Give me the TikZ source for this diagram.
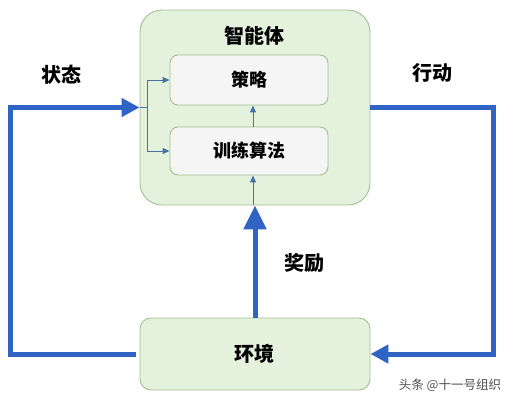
\documentclass[tikz,border=0pt]{standalone}
\usepackage{fontspec}
\setmainfont{Noto Sans CJK SC}
\usetikzlibrary{arrows.meta}
\definecolor{loopblue}{RGB}{47,99,196}
\definecolor{thinblue}{RGB}{70,115,165}
\definecolor{agentfill}{RGB}{228,241,220}
\definecolor{agentdraw}{RGB}{160,192,142}
\definecolor{innerfill}{RGB}{245,245,245}
\definecolor{wmgray}{RGB}{80,80,80}
\begin{document}
\begin{tikzpicture}[x=1pt,y=-1pt,
  outerbox/.style={draw=agentdraw, fill=agentfill, line width=0.9pt, rounded corners=22pt, minimum width=230pt, inner sep=0pt},
  innerbox/.style={draw=agentdraw, fill=innerfill, line width=0.9pt, rounded corners=8pt, minimum width=158pt, inner sep=0pt},
  envbox/.style={draw=agentdraw, fill=agentfill, line width=0.9pt, rounded corners=11pt, minimum width=230pt, minimum height=72pt, inner sep=0pt},
  lbl/.style={font=\fontsize{20}{22}\selectfont\bfseries, text=black},
  ilbl/.style={font=\fontsize{18}{20}\selectfont\bfseries, text=black},
  bigloop/.style={draw=loopblue, line width=5pt},
  bigtip/.style={-{Triangle[length=18pt,width=18pt]}},
  thinarrow/.style={draw=thinblue, line width=1pt, -{Triangle[length=7pt,width=6pt]}, color=thinblue},
]
\useasboundingbox (0,0) rectangle (514,408);
\fill[white] (0,0) rectangle (514,408);
% boxes
\node[outerbox, minimum height=195pt] (agent) at (255,107.5) {};
\node[innerbox, minimum height=50pt] (policy) at (249,80) {};
\node[innerbox, minimum height=48pt] (train) at (249,151) {};
\node[envbox] (env) at (255,354) {};
% labels
\node[lbl] (agentlbl) at (254,36) {智能体};
\node[ilbl] (policylbl) at (249,80) {策略};
\node[ilbl] (trainlbl) at (249,151) {训练算法};
\node[lbl] (envlbl) at (254,354) {环境};
\node[lbl] (statelbl) at (61,75) {状态};
\node[lbl] (actlbl) at (432,73) {行动};
\node[lbl] (rewardlbl) at (304,263) {奖励};
\node[font=\fontsize{12.5}{14}\selectfont, text=wmgray] (wm) at (450,385) {头条 @十一号组织};
% coordinates
\coordinate (envleft) at (133,354);
\coordinate (lcorner) at (10,354);
\coordinate (split) at (147,107.5);
\coordinate (splittop) at (147,80);
\coordinate (splitbot) at (147,151);
\coordinate (rcorner) at (493,107.5);
\coordinate (rbot) at (493,354);
% left loop (state)
\draw[bigloop, bigtip, line cap=rect] (envleft) -- (lcorner) |- (agent.west);
% right loop (action)
\draw[bigloop, bigtip] (agent.east) -- (rcorner) -- (rbot) -- (env.east);
% state split
\draw[thinblue, line width=1pt] (agent.west) -- (split);
\draw[thinblue, line width=1pt] (splittop) -- (splitbot);
\draw[thinarrow] (splittop) -- (policy.west |- splittop);
\draw[thinarrow] (splitbot) -- (train.west |- splitbot);
% reward
\draw[bigloop, -{Triangle[length=24pt,width=22pt]}] (env.north) -- (agent.south);
\draw[thinarrow] (agent.south -| 253,0) -- (train.south -| 253,0);
\draw[thinarrow] (train.north -| 253,0) -- (policy.south -| 253,0);
\end{tikzpicture}
\end{document}
